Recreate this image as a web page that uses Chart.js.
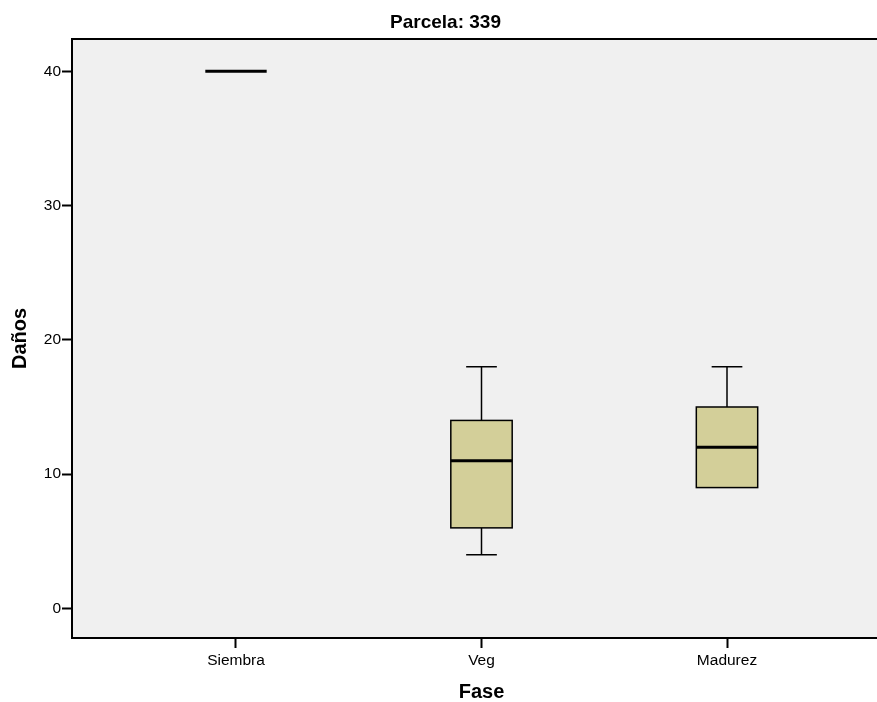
<!DOCTYPE html>
<html>
<head>
<meta charset="utf-8">
<script src="https://cdn.jsdelivr.net/npm/chart.js@4.4.0/dist/chart.umd.min.js"></script>
<style>
  body { margin: 0; background: #fff; overflow: hidden; }
</style>
</head>
<body>
<!-- 元の図は右端が切れているので、キャンバスを少し広くする -->
<canvas id="chart" width="891" height="702"></canvas>
<script>
// データ
const categories = ['Siembra', 'Veg', 'Madurez'];
const mins    = [40, 4, 9];
const q1s     = [40, 6, 9];
const medians = [40, 11, 12];
const q3s     = [40, 14, 15];
const maxs    = [40, 18, 18];
const yTicks  = [0, 10, 20, 30, 40];

const font = 'Liberation Sans, Arial, sans-serif';

// 背景と上の枠線
const plotBackground = {
  id: 'plotBackground',
  beforeDraw(chart) {
    const { ctx, chartArea: a } = chart;
    ctx.save();
    ctx.fillStyle = '#f0f0f0';
    ctx.fillRect(a.left, a.top, a.right - a.left, a.bottom - a.top);
    ctx.strokeStyle = '#000';
    ctx.lineWidth = 2;
    ctx.strokeRect(a.left, a.top, a.right - a.left, a.bottom - a.top);
    ctx.restore();
  }
};

// 箱ひげ図の描画
const boxPlot = {
  id: 'boxPlot',
  afterDatasetsDraw(chart) {
    const { ctx, scales: { x, y } } = chart;
    const boxHalf = 0.125;
    const capHalf = 0.0625;
    ctx.save();
    ctx.strokeStyle = '#000';
    categories.forEach((c, i) => {
      const xl = x.getPixelForValue(i - boxHalf);
      const xr = x.getPixelForValue(i + boxHalf);
      const xc = x.getPixelForValue(i);
      const cl = x.getPixelForValue(i - capHalf);
      const cr = x.getPixelForValue(i + capHalf);
      const yMin = y.getPixelForValue(mins[i]);
      const yQ1 = y.getPixelForValue(q1s[i]);
      const yMed = y.getPixelForValue(medians[i]);
      const yQ3 = y.getPixelForValue(q3s[i]);
      const yMax = y.getPixelForValue(maxs[i]);

      ctx.lineWidth = 1.5;
      // ひげ
      if (maxs[i] > q3s[i]) {
        ctx.beginPath();
        ctx.moveTo(xc, yQ3); ctx.lineTo(xc, yMax);
        ctx.moveTo(cl, yMax); ctx.lineTo(cr, yMax);
        ctx.stroke();
      }
      if (mins[i] < q1s[i]) {
        ctx.beginPath();
        ctx.moveTo(xc, yQ1); ctx.lineTo(xc, yMin);
        ctx.moveTo(cl, yMin); ctx.lineTo(cr, yMin);
        ctx.stroke();
      }
      // 箱
      if (q3s[i] > q1s[i]) {
        ctx.fillStyle = '#d3cf99';
        ctx.fillRect(xl, yQ3, xr - xl, yQ1 - yQ3);
        ctx.strokeRect(xl, yQ3, xr - xl, yQ1 - yQ3);
      }
      // 中央値
      ctx.lineWidth = 3;
      ctx.beginPath();
      ctx.moveTo(xl, yMed); ctx.lineTo(xr, yMed);
      ctx.stroke();
    });
    ctx.restore();
  }
};

new Chart(document.getElementById('chart'), {
  type: 'scatter',
  data: {
    datasets: [{
      data: medians.map((m, i) => ({ x: i, y: m })),
      pointRadius: 0
    }]
  },
  options: {
    responsive: false,
    animation: false,
    layout: { padding: 0 },
    plugins: {
      legend: { display: false },
      tooltip: { enabled: false },
      title: {
        display: true,
        text: 'Parcela: 339',
        color: '#000',
        font: { family: font, size: 19, weight: 'bold', lineHeight: 1.2 },
        padding: { top: 11, bottom: 5.2 }
      }
    },
    scales: {
      x: {
        type: 'linear',
        min: -0.668,
        max: 2.668,
        afterBuildTicks: s => { s.ticks = categories.map((c, i) => ({ value: i })); },
        afterFit: s => { s.height = 64; },
        ticks: {
          color: '#000',
          font: { family: font, size: 15.5 },
          padding: 3,
          maxRotation: 0,
          callback: v => categories[v]
        },
        grid: { drawOnChartArea: false, drawTicks: true, tickLength: 10, tickWidth: 2, color: '#000' },
        border: { display: true, color: '#000', width: 2 },
        title: {
          display: true,
          text: 'Fase',
          color: '#000',
          font: { family: font, size: 20, weight: 'bold', lineHeight: 1 },
          padding: { top: 0, bottom: 0 }
        }
      },
      y: {
        type: 'linear',
        min: -2.2,
        max: 42.4,
        afterBuildTicks: s => { s.ticks = yTicks.map(v => ({ value: v })); },
        afterFit: s => { s.width = 72; },
        ticks: {
          color: '#000',
          font: { family: font, size: 15.5 },
          padding: 1
        },
        grid: { drawOnChartArea: false, drawTicks: true, tickLength: 10, tickWidth: 2, color: '#000' },
        border: { display: true, color: '#000', width: 2 },
        title: {
          display: true,
          text: 'Daños',
          color: '#000',
          font: { family: font, size: 20, weight: 'bold', lineHeight: 1 },
          padding: { top: 10, bottom: 0 }
        }
      }
    }
  },
  plugins: [plotBackground, boxPlot]
});
</script>
</body>
</html>
